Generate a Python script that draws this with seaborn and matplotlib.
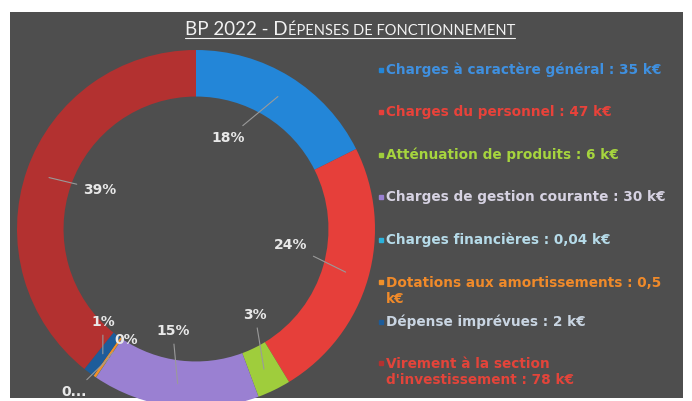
import matplotlib.pyplot as plt
import seaborn as sns
import numpy as np
from matplotlib.patches import Rectangle
from matplotlib.lines import Line2D

# Data (k€)
categories = [
    "Charges à caractère général",
    "Charges du personnel",
    "Atténuation de produits",
    "Charges de gestion courante",
    "Charges financières",
    "Dotations aux amortissements",
    "Dépense imprévues",
    "Virement à la section d'investissement",
]
values = [35, 47, 6, 30, 0.04, 0.5, 2, 78]
pct_labels = ["18%", "24%", "3%", "15%", "0...", "0%", "1%", "39%"]
legend_labels = [
    "Charges à caractère général : 35 k€",
    "Charges du personnel : 47 k€",
    "Atténuation de produits : 6 k€",
    "Charges de gestion courante : 30 k€",
    "Charges financières : 0,04 k€",
    "Dotations aux amortissements : 0,5\nk€",
    "Dépense imprévues : 2 k€",
    "Virement à la section\nd'investissement : 78 k€",
]

sns.set_theme(style="white")
plt.rcParams['font.family'] = ['DejaVu Sans']

wedge_colors = ["#2386d8", "#e63f3a", "#9fcd3c", "#9a80d2",
                "#2bb2dc", "#f0902a", "#1d5c9a", "#b33130"]
text_colors = ["#3f90e0", "#e8423a", "#a6d53e", "#d6d2e2",
               "#b6dbe9", "#f08a2a", "#c9d5e2", "#e3443a"]

W, H = 692, 401
fig = plt.figure(figsize=(W / 100, H / 100), dpi=100, facecolor="white")

# dark panel
panel = Rectangle((10 / W, 3 / H), 673 / W, 386 / H, transform=fig.transFigure,
                  facecolor="#4e4e4e", edgecolor="none", zorder=-5)
fig.patches.append(panel)

# donut
cx, cy, r = 196, 229, 179
ax = fig.add_axes([(cx - r) / W, (H - cy - r) / H, 2 * r / W, 2 * r / H])
ax.set_zorder(2)
ax.patch.set_visible(False)
wedges, _ = ax.pie(values, colors=wedge_colors, startangle=90, counterclock=False,
                   radius=1, wedgeprops=dict(width=0.26, edgecolor="none"))
ax.set_xlim(-1, 1)
ax.set_ylim(-1, 1)
ax.axis("off")

# label placement (x, y in radius units) for the percentage labels
label_pos = [(0.18, 0.51), (0.53, -0.09), (0.33, -0.48), (-0.13, -0.57),
             (-0.68, -0.91), (-0.39, -0.62), (-0.52, -0.52), (-0.54, 0.22)]
for w, lab, pos in zip(wedges, pct_labels, label_pos):
    mid = np.deg2rad((w.theta1 + w.theta2) / 2)
    xy = (0.87 * np.cos(mid), 0.87 * np.sin(mid))
    ax.annotate(lab, xy=xy, xytext=pos, ha="center", va="center",
                fontsize=10, fontweight="bold", color="#e8e8e8",
                arrowprops=dict(arrowstyle="-", color="#9a9a9a", lw=0.8,
                                shrinkA=2, shrinkB=0))

# legend
leg_y = [70, 112, 155, 197, 240, 291, 322, 372]
for lab, tc, wc, y in zip(legend_labels, text_colors, wedge_colors, leg_y):
    fig.text(386 / W, 1 - y / H, lab, color=tc, fontsize=9.8, fontweight="bold",
             va="center", ha="left", linespacing=1.25, zorder=3)
    first_y = y - (9 if "\n" in lab else 0)
    fig.add_artist(Line2D([381 / W], [1 - first_y / H], marker="s", markersize=3.5,
                          color=wc, transform=fig.transFigure))

# title in small caps
pieces = [("BP 2022 - D", 13.5), ("ÉPENSES DE FONCTIONNEMENT", 10.5)]
ty = 1 - 35 / H
texts = [fig.text(0, ty, t, fontsize=s, color="#f2f2f2", family="Lato",
                  va="baseline", ha="left") for t, s in pieces]
fig.canvas.draw()
rend = fig.canvas.get_renderer()
widths = [t.get_window_extent(rend).width for t in texts]
x0 = 350 - sum(widths) / 2
for t, wdt in zip(texts, widths):
    t.set_x(x0 / W)
    x0 += wdt
fig.add_artist(Line2D([(350 - sum(widths) / 2) / W, (350 + sum(widths) / 2) / W],
                      [1 - 38 / H, 1 - 38 / H], color="#f2f2f2", lw=0.8,
                      transform=fig.transFigure))

fig.savefig("out.png", dpi=100, facecolor="white")
